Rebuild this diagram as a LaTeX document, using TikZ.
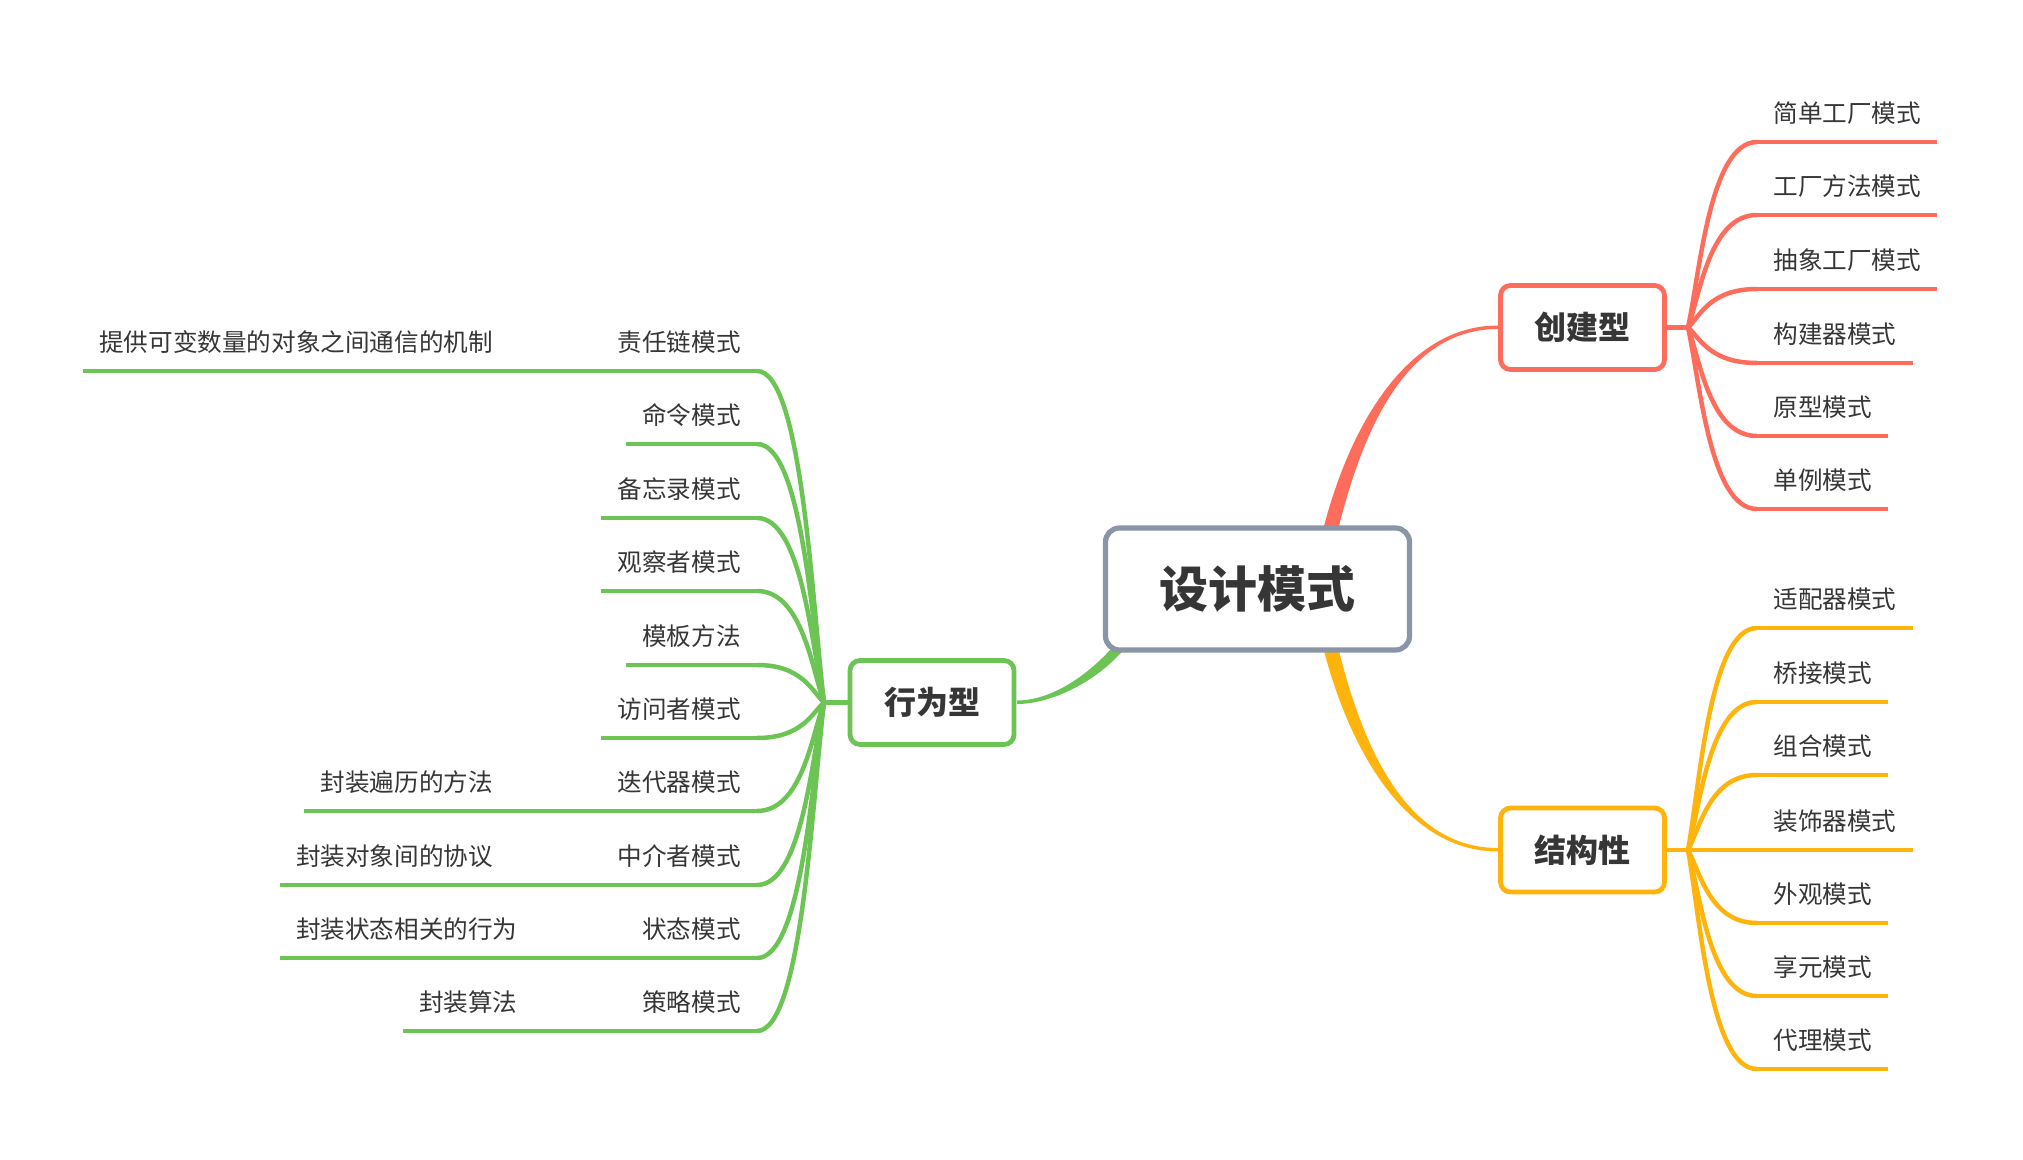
\documentclass[tikz,border=0pt]{standalone}
\usepackage{fontspec}
\usetikzlibrary{calc}
\newfontfamily\cjk{Noto Sans CJK SC}
\definecolor{cred}{HTML}{FE6C5B}
\definecolor{cyel}{HTML}{FFB30D}
\definecolor{cgrn}{HTML}{6CC454}
\definecolor{cgray}{HTML}{8A95A7}
\definecolor{txt}{HTML}{363636}
\tikzset{
  leaf/.style={font=\cjk\fontsize{12.3pt}{14pt}\selectfont, text=txt, inner xsep=8pt, inner ysep=0pt, text height=11pt, text depth=9.5pt},
  topic/.style={draw, fill=white, rounded corners=5pt, line width=2.4pt, minimum width=82pt, minimum height=42pt, inner sep=0pt, text=txt, font=\cjk\bfseries\fontsize{16pt}{18pt}\selectfont},
  central/.style={draw=cgray, fill=white, rounded corners=7pt, line width=2.6pt, minimum width=152pt, minimum height=61pt, inner sep=0pt, text=txt, font=\cjk\bfseries\fontsize{24.5pt}{28pt}\selectfont},
  bl/.style={line width=2.25pt}
}
\begin{document}
\begin{tikzpicture}[x=0.5pt,y=-0.5pt]
\useasboundingbox (0,0) rectangle (2023,1160);
% tapered main connectors
\fill[cred] (1322.5,532) .. controls (1348,430) and (1405,325.5) .. (1498,325.5) -- (1498,329) .. controls (1405,329) and (1362,432) .. (1337.5,532) -- cycle;
\fill[cyel] (1322.5,645) .. controls (1348,747) and (1405,851.5) .. (1498,851.5) -- (1498,848) .. controls (1405,848) and (1362,745) .. (1337.5,645) -- cycle;
\fill[cgrn] (1125.7,647.4) .. controls (1096,683) and (1050,704) .. (1017,704) -- (1017,700.5) .. controls (1050,700.5) and (1088,677) .. (1118.3,640.6) -- cycle;
% topic boxes
\node[central] (root) at (1257.5,589) {设计模式};
\node[topic, draw=cred] (cre) at (1582.5,327.5) {创建型};
\node[topic, draw=cyel] (str) at (1582.5,850) {结构性};
\node[topic, draw=cgrn] (beh) at (932,702.5) {行为型};
\coordinate (hubC) at (1688,327.5);
\coordinate (hubS) at (1688,850);
\coordinate (hubB) at (824,702.5);
\draw[bl, cred] (cre.east) -- (hubC);
\draw[bl, cyel] (str.east) -- (hubS);
\draw[bl, cgrn] (beh.west) -- (hubB);
% creational
\foreach \nm/\t/\yy in {c1/简单工厂模式/142, c2/工厂方法模式/215, c3/抽象工厂模式/289, c4/构建器模式/363, c5/原型模式/436, c6/单例模式/509}{
  \node[leaf, anchor=south west] (\nm) at (1757,\yy) {\t};
  \draw[bl, cred] (\nm.south west) -- (\nm.south east);
  \draw[bl, cred] let \p1=(hubC), \p2=(\nm.south west) in
    (\p1) .. controls ({\x1+6pt},{\y1+0.3*(\y2-\y1)}) and ({\x1+11pt},\y2) .. (\p2);
}
% structural
\foreach \nm/\t/\yy in {s1/适配器模式/628, s2/桥接模式/702, s3/组合模式/775, s4/装饰器模式/850, s5/外观模式/923, s6/享元模式/996, s7/代理模式/1069}{
  \node[leaf, anchor=south west] (\nm) at (1757,\yy) {\t};
  \draw[bl, cyel] (\nm.south west) -- (\nm.south east);
  \draw[bl, cyel] let \p1=(hubS), \p2=(\nm.south west) in
    (\p1) .. controls ({\x1+6pt},{\y1+0.3*(\y2-\y1)}) and ({\x1+11pt},\y2) .. (\p2);
}
% behavioral
\foreach \nm/\t/\yy in {b1/责任链模式/371, b2/命令模式/444, b3/备忘录模式/518, b4/观察者模式/591, b5/模板方法/665, b6/访问者模式/738, b7/迭代器模式/811, b8/中介者模式/885, b9/状态模式/958, b10/策略模式/1031}{
  \node[leaf, anchor=south east] (\nm) at (757,\yy) {\t};
  \draw[bl, cgrn] (\nm.south west) -- (\nm.south east);
  \draw[bl, cgrn] let \p1=(hubB), \p2=(\nm.south east) in
    (\p1) .. controls ({\x1-6pt},{\y1+0.3*(\y2-\y1)}) and ({\x1-11pt},\y2) .. (\p2);
}
% details
\foreach \nm/\pr/\t in {d1/b1/提供可变数量的对象之间通信的机制, d7/b7/封装遍历的方法, d8/b8/封装对象间的协议, d9/b9/封装状态相关的行为, d10/b10/封装算法}{
  \node[leaf, anchor=south east] (\nm) at ($(\pr.south west)+(-92,0)$) {\t};
  \draw[bl, cgrn] (\nm.south west) -- (\nm.south east) -- (\pr.south west);
}
\end{tikzpicture}
\end{document}
